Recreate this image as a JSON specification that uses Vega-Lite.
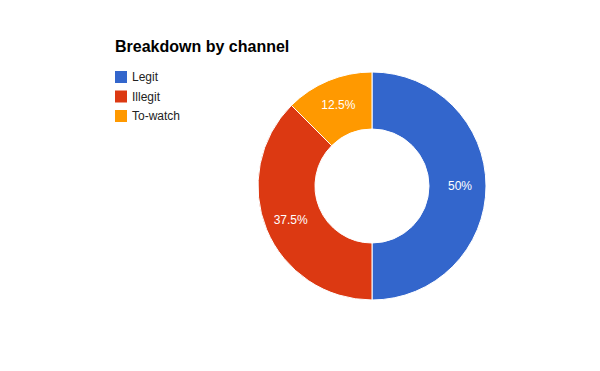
{
  "$schema": "https://vega.github.io/schema/vega-lite/v6.json",
  "autosize": "none",
  "width": 228,
  "height": 228,
  "padding": {"left": 258, "top": 72, "right": 0, "bottom": 0},
  "background": "white",
  "config": {"view": {"stroke": null}, "font": "Liberation Sans"},
  "title": {
    "text": "Breakdown by channel",
    "anchor": "start",
    "frame": "group",
    "orient": "top",
    "baseline": "alphabetic",
    "offset": 2,
    "dx": -143,
    "fontSize": 16,
    "fontWeight": "bold",
    "font": "Liberation Sans",
    "color": "#000000"
  },
  "data": {
    "values": [
      {"channel": "Legit", "value": 50, "label": "50%", "ord": 1},
      {"channel": "Illegit", "value": 37.5, "label": "37.5%", "ord": 2},
      {"channel": "To-watch", "value": 12.5, "label": "12.5%", "ord": 3}
    ]
  },
  "encoding": {
    "theta": {"field": "value", "type": "quantitative", "stack": true},
    "order": {"field": "ord", "type": "quantitative"}
  },
  "layer": [
    {
      "mark": {"type": "arc", "outerRadius": 114, "innerRadius": 57, "stroke": "white", "strokeWidth": 1},
      "encoding": {
        "color": {
          "field": "channel",
          "type": "nominal",
          "scale": {"domain": ["Legit", "Illegit", "To-watch"], "range": ["#3366CC", "#DC3912", "#FF9900"]},
          "legend": {
            "title": null,
            "orient": "none",
            "legendX": -143,
            "legendY": -1,
            "symbolType": "square",
            "symbolSize": 144,
            "symbolStrokeWidth": 0,
            "symbolOpacity": 1,
            "labelFontSize": 12,
            "labelFont": "Liberation Sans",
            "labelColor": "#222222",
            "labelOffset": 5,
            "rowPadding": 7.5
          }
        }
      }
    },
    {
      "mark": {"type": "text", "radius": 88, "fontSize": 12, "color": "white", "font": "Liberation Sans"},
      "encoding": {
        "text": {"field": "label", "type": "nominal"}
      }
    }
  ]
}
